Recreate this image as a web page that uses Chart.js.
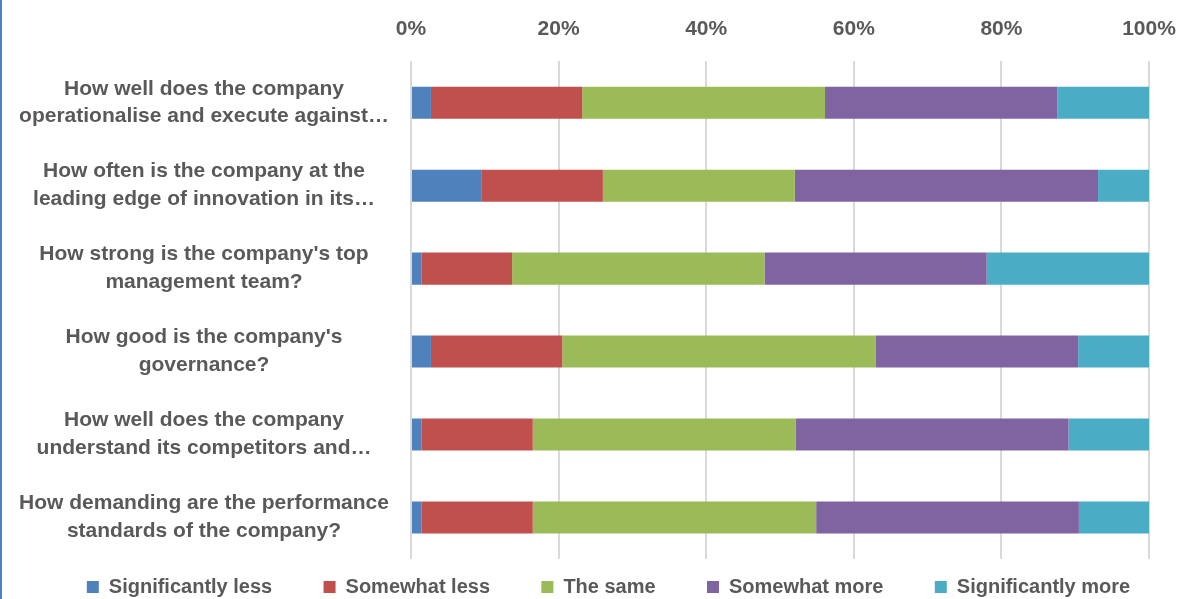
<!DOCTYPE html>
<html>
<head>
<meta charset="utf-8">
<script src="https://cdn.jsdelivr.net/npm/chart.js@4"></script>
<style>
    body { margin: 0; background: #ffffff; overflow: hidden; }
    #wrap { width: 1177px; height: 599px; overflow: hidden; border-left: 2px solid #4F81BD; }
</style>
</head>
<body>
<div id="wrap">
    <canvas id="chart" width="1177" height="607"></canvas>
</div>
<script>
// Survey questions, wrapped the way the picture wraps them.
const questions = [
    ['How well does the company', 'operationalise and execute against\u2026'],
    ['How often is the company at the', 'leading edge of innovation in its\u2026'],
    ["How strong is the company's top", 'management team?'],
    ["How good is the company's", 'governance?'],
    ['How well does the company', 'understand its competitors and\u2026'],
    ['How demanding are the performance', 'standards of the company?']
];

// Share of answers in percent, one value per question.
const significantlyLess = [2.7, 9.6, 1.4, 2.7, 1.4, 1.4];
const somewhatLess = [20.5, 16.4, 12.3, 17.8, 15.1, 15.1];
const theSame = [32.9, 26.0, 34.2, 42.5, 35.6, 38.4];
const somewhatMore = [31.5, 41.1, 30.1, 27.4, 37.0, 35.6];
const significantlyMore = [12.4, 6.9, 22.0, 9.6, 10.9, 9.5];

const tickValues = [0, 20, 40, 60, 80, 100];

const textColor = '#595959';
const fontFamily = "'Liberation Sans', Arial, sans-serif";

function series(label, data, color) {
    return {
        label: label,
        data: data,
        backgroundColor: color,
        borderWidth: 0,
        barPercentage: 0.386,
        categoryPercentage: 1
    };
}

// The legend in the picture sits a bit right of centre.
const legendShift = {
    id: 'legendShift',
    afterUpdate(chart) {
        if (chart.legend) {
            chart.legend.left += 36;
        }
    }
};

const config = {
    type: 'bar',
    data: {
        labels: questions,
        datasets: [
            series('Significantly less', significantlyLess, '#4F81BD'),
            series('Somewhat less', somewhatLess, '#C0504D'),
            series('The same', theSame, '#9BBB59'),
            series('Somewhat more', somewhatMore, '#8064A2'),
            series('Significantly more', significantlyMore, '#4BACC6')
        ]
    },
    options: {
        indexAxis: 'y',
        responsive: false,
        animation: false,
        layout: {
            padding: { top: -2, right: 0, bottom: 0, left: 0 }
        },
        scales: {
            x: {
                position: 'top',
                stacked: true,
                min: 0,
                max: 100,
                afterBuildTicks: (scale) => {
                    scale.ticks = tickValues.map(v => ({ value: v }));
                },
                afterFit: (scale) => {
                    // room for the "100%" label only
                    scale.paddingLeft = 0;
                    scale.paddingRight = 30;
                },
                grid: { color: '#D9D9D9', lineWidth: 2, drawTicks: false },
                border: { display: false },
                ticks: {
                    padding: 19,
                    color: textColor,
                    font: { family: fontFamily, size: 21, weight: 'bold' },
                    callback: (v) => v + '%'
                }
            },
            y: {
                stacked: true,
                grid: { display: false },
                border: { display: false },
                afterFit: (scale) => {
                    scale.width = 409;
                },
                ticks: {
                    crossAlign: 'center',
                    padding: 14,
                    color: textColor,
                    font: { family: fontFamily, size: 21, weight: 'bold', lineHeight: 1.33 }
                }
            }
        },
        plugins: {
            tooltip: { enabled: false },
            legend: {
                position: 'bottom',
                labels: {
                    boxWidth: 12,
                    boxHeight: 12,
                    padding: 18,
                    color: textColor,
                    font: { family: fontFamily, size: 20, weight: 'bold' },
                    generateLabels: (chart) => {
                        const items = Chart.defaults.plugins.legend.labels.generateLabels(chart);
                        // extra room after each entry, as in the picture
                        items.forEach((item, i) => {
                            if (i < items.length - 1) {
                                item.text = item.text + '      ';
                            }
                        });
                        return items;
                    }
                }
            }
        }
    },
    plugins: [legendShift]
};

new Chart(document.getElementById('chart'), config);
</script>
</body>
</html>
